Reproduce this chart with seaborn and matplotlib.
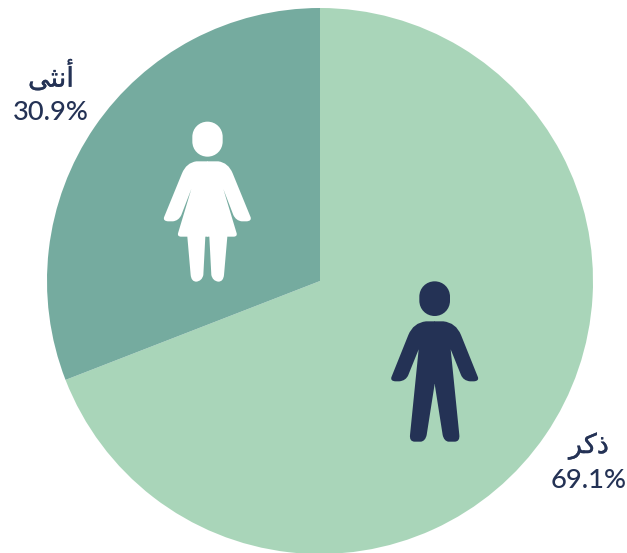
import matplotlib
matplotlib.use("Agg")
import matplotlib.pyplot as plt
import matplotlib.patheffects as pe
import seaborn as sns
from matplotlib.path import Path
from matplotlib.patches import PathPatch
from matplotlib.transforms import Affine2D

categories = ["ذكر", "أنثى"]
# Arabic shaped by hand (matplotlib has no shaping): presentation forms in visual order
shaped_labels = ["\uFEAE\uFEDB\uFEAB", "\uFEF0\uFE9C\uFEE7\uFE83"]
values = [69.1, 30.9]
value_labels = ["69.1%", "30.9%"]
colors = ["#A9D5B9", "#75AB9F"]
ink = "#243255"

W, H = 627, 553
sns.set_theme(style="white")
plt.rcParams["font.family"] = ["Lato", "DejaVu Sans"]

fig = plt.figure(figsize=(W / 100, H / 100), dpi=100, facecolor="white")
ax = fig.add_axes([0, 0, 1, 1])
cx, cy, R = 320, 281, 273
ax.pie(values, colors=sns.color_palette(colors), startangle=90, counterclock=False,
       radius=1, wedgeprops=dict(linewidth=0))
ax.set_xlim(-cx / R, (W - cx) / R)
ax.set_ylim((cy - H) / R, cy / R)
ax.set_aspect("equal")
ax.axis("off")

px = Affine2D().scale(1, -1).translate(0, H)


def half_path(segs, x0, y0, mirror_about=None):
    verts, codes = [], []
    def conv(p):
        x = p[0]
        if mirror_about is not None:
            x = 2 * mirror_about - x
        return (x / 3 + x0, p[1] / 3 + y0)
    verts.append(conv(segs[0]))
    codes.append(Path.MOVETO)
    for s in segs[1:]:
        if len(s) == 2:
            verts.append(conv(s))
            codes.append(Path.LINETO)
        elif len(s) == 4:
            verts += [conv(s[:2]), conv(s[2:])]
            codes += [Path.CURVE3, Path.CURVE3]
        else:
            verts += [conv(s[:2]), conv(s[2:4]), conv(s[4:])]
            codes += [Path.CURVE4, Path.CURVE4, Path.CURVE4]
    verts.append(verts[0])
    codes.append(Path.CLOSEPOLY)
    return Path(verts, codes)


def figure_icon(segs, centre, head, x0, y0, color):
    for mirror in (None, centre):
        ax.add_patch(PathPatch(half_path(segs, x0, y0, mirror), facecolor=color,
                               edgecolor="none", transform=px, zorder=3))
    a, b, c, d = head
    r = (c - a) / 2
    k = 0.56 * r
    mx = (a + c) / 2
    h = [(mx, b), (mx + k, b, c, b + r - k, c, b + r), (c, d - r),
         (c, d - r + k, mx + k, d, mx, d), (mx - k, d, a, d - r + k, a, d - r),
         (a, b + r), (a, b + r - k, mx - k, b, mx, b)]
    ax.add_patch(PathPatch(half_path(h, x0, y0), facecolor=color, edgecolor="none",
                           transform=px, zorder=3))


female = [(171, 154), (205, 154), (235, 158, 248, 190), (302, 322), (305, 333, 290, 334),
          (275, 334), (258, 332, 250, 315), (220, 237), (260, 370), (262, 379, 252, 380),
          (232, 380), (222, 495), (220, 515, 205, 515), (188, 513, 184, 495), (178, 380), (171, 380)]
male = [(163, 154), (190, 154), (228, 158, 243, 195), (294, 322), (297, 333, 282, 334),
        (270, 334), (250, 332, 243, 315), (212, 238), (238, 495), (240, 514, 225, 515),
        (205, 515), (192, 513, 188, 495), (164, 342), (163, 342)]
figure_icon(female, 172, (127, 35, 218, 140), 150, 110, "white")
figure_icon(male, 164, (118, 34, 210, 138), 380, 270, ink)

label_pos = [(589, 446, 481), (51, 77, 113)]
for name, val, (x, y1, y2) in zip(shaped_labels, value_labels, label_pos):
    ax.text(x, y1, name, transform=px, ha="center", va="center", fontsize=19.5, color=ink,
            family=["DejaVu Sans"],
            path_effects=[pe.withStroke(linewidth=0.25, foreground=ink)])
    ax.text(x, y2, val, transform=px, ha="center", va="center", fontsize=19.7, color=ink,
            weight="medium")

fig.savefig("out.png", dpi=100, facecolor="white")
